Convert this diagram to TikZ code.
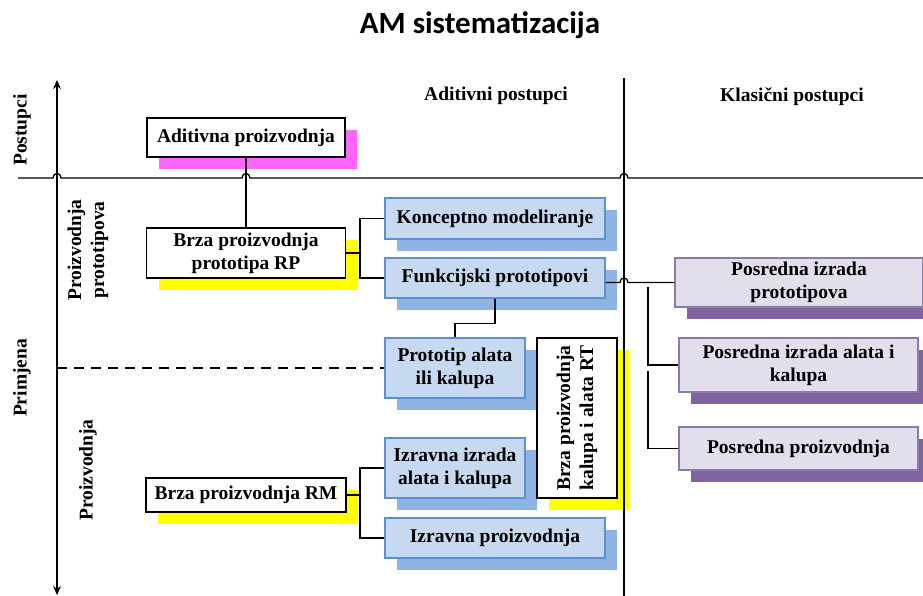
\documentclass[tikz,border=0pt]{standalone}
\usepackage{fontspec}
\setmainfont{Liberation Serif}
\newfontfamily\titlefont{Carlito}
\usepackage{graphicx}
\usetikzlibrary{positioning,shadows,arrows.meta}

\definecolor{bluefill}{HTML}{C6D9F1}
\definecolor{blueedge}{HTML}{5F8FD3}
\definecolor{blueshade}{HTML}{8DB4E2}
\definecolor{purplefill}{HTML}{E3DEEB}
\definecolor{purpleedge}{HTML}{8C7BAA}
\definecolor{purpleshade}{HTML}{8064A2}
\definecolor{pinkshade}{HTML}{FF66FF}
\definecolor{yellowshade}{HTML}{FFFF00}

\tikzset{
  txt/.style={font=\bfseries\fontsize{19.5}{23}\selectfont, align=center},
  box/.style={txt, draw, line width=1.3pt, inner sep=2pt},
  whitebox/.style={box, draw=black, fill=white,
    general shadow={fill=#1, shadow xshift=12pt, shadow yshift=-12pt}},
  bluebox/.style={box, draw=blueedge, fill=bluefill,
    general shadow={fill=blueshade, shadow xshift=12pt, shadow yshift=-12pt}},
  purplebox/.style={box, draw=purpleedge, fill=purplefill,
    general shadow={fill=purpleshade, shadow xshift=12pt, shadow yshift=-12pt}},
  sidetext/.style={txt, rotate=90},
  link/.style={line width=1.3pt},
}

\begin{document}
\begin{tikzpicture}[x=1pt,y=-1pt]
\useasboundingbox (0,0) rectangle (923,596);

% Nodes
  \node[font=\titlefont\bfseries\fontsize{31}{36}\selectfont] (Title) at (480,25) {AM sistematizacija};
  \node[txt] (AditivHead) at (496,96) {Aditivni postupci};
  \node[txt] (KlasHead)   at (792,97) {Klasični postupci};

  \node[sidetext] (Postupci) at (22,130) {Postupci};
  \node[sidetext] (Primjena) at (22,378) {Primjena};
  \node[sidetext] (ProtoLab) at (88,250) {Proizvodnja\\prototipova};
  \node[sidetext] (ProizLab) at (88,470) {Proizvodnja};

  \node[whitebox=pinkshade, minimum width=198pt, minimum height=39pt]   (Aditiv) at (246,137.5) {Aditivna proizvodnja};
  \node[whitebox=yellowshade, minimum width=199pt, minimum height=50pt] (BrzaRP) at (246,253) {Brza proizvodnja\\prototipa RP};
  \node[whitebox=yellowshade, minimum width=200pt, minimum height=34pt] (BrzaRM) at (246,495) {Brza proizvodnja RM};

  \node[bluebox, minimum width=220pt, minimum height=41pt] (Koncept)   at (495,218.5) {Konceptno modeliranje};
  \node[bluebox, minimum width=220pt, minimum height=40pt] (Funkcij)   at (495,278) {Funkcijski prototipovi};
  \node[bluebox, minimum width=140pt, minimum height=60pt] (Prototip)  at (455,368) {Prototip alata\\ili kalupa};
  \node[bluebox, minimum width=140pt, minimum height=60pt] (IzrIzrada) at (455,468) {Izravna izrada\\alata i kalupa};
  \node[bluebox, minimum width=220pt, minimum height=40pt] (IzrProiz)  at (495,538) {Izravna proizvodnja};
  \node[whitebox=yellowshade, minimum width=80pt, minimum height=160pt] (BrzaRT) at (577,418)
    {\rotatebox{90}{\begin{tabular}{@{}c@{}}Brza proizvodnja\\kalupa i alata RT\end{tabular}}};

  \node[purplebox, minimum width=248pt, minimum height=49pt] (PosProto) at (799,282.5) {Posredna izrada\\prototipova};
  \node[purplebox, minimum width=239pt, minimum height=54pt] (PosAlat)  at (798.5,365) {Posredna izrada alata i\\kalupa};
  \node[purplebox, minimum width=239pt, minimum height=43pt] (PosProiz) at (798.5,448.5) {Posredna proizvodnja};

% Axes
  \draw[link, {Stealth[length=9pt,width=8pt]}-{Stealth[length=9pt,width=8pt]}] (57,80) -- (57,595);
  \draw[link] (624,78) -- (624,596);
  \draw[link] (18,178) -- (53,178) .. controls (53,172) and (61,172) .. (61,178)
    -- (242,178) .. controls (242,172) and (250,172) .. (250,178)
    -- (620,178) .. controls (620,172) and (628,172) .. (628,178) -- (923,178);
  \draw[link, dash pattern=on 10pt off 7pt] (57,368) -- (Prototip.west);

% Edges
  \coordinate (jRP) at (360,253);
  \coordinate (jRM) at (360,495);
  \coordinate (jPos1) at (648,287);
  \coordinate (jPos2) at (648,371);

  \draw[link] (Aditiv) -- (BrzaRP);
  \draw[link] (BrzaRP.east) -- (jRP) |- (Koncept.west);
  \draw[link] (jRP) |- (Funkcij.west);
  \draw[link] (Funkcij.south) -- ++(0,25) -| (Prototip.north);
  \draw[link] (Funkcij.east |- PosProto.west) -- (620,282.5)
    .. controls (620,276.5) and (628,276.5) .. (628,282.5) -- (PosProto.west);
  \draw[link] (jPos1) |- (PosAlat.west);
  \draw[link] (jPos2) |- (PosProiz.west);
  \draw[link] (BrzaRM.east) -- (jRM) |- (IzrIzrada.west);
  \draw[link] (jRM) |- (IzrProiz.west);

\end{tikzpicture}
\end{document}
